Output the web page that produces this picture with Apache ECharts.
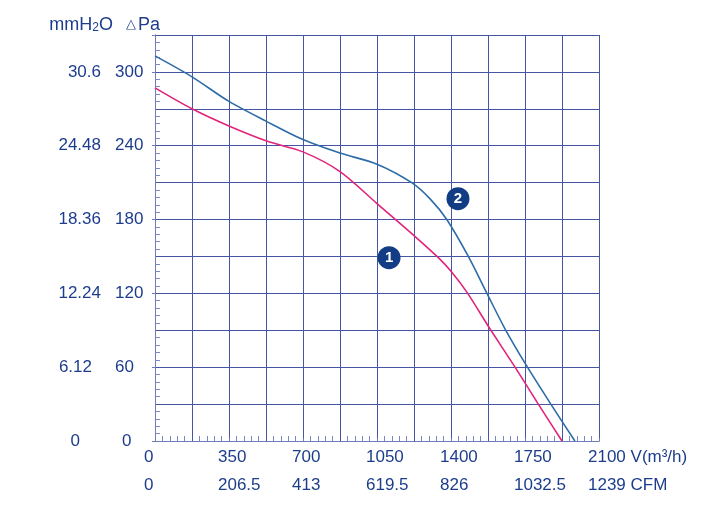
<!DOCTYPE html>
<html>
<head>
<meta charset="utf-8">
<script src="https://cdn.jsdelivr.net/npm/echarts@6/dist/echarts.min.js"></script>
<style>
  html, body { margin: 0; padding: 0; background: #fff; }
  #chart { width: 705px; height: 520px; }
</style>
</head>
<body>
<div id="chart"></div>
<script>
// tick labels
const flowTicks = [0, 350, 700, 1050, 1400, 1750, 2100];
const cfmLabels = ['0', '206.5', '413', '619.5', '826', '1032.5', '1239'];
const paTicks = [0, 60, 120, 180, 240, 300];
const mmLabels = ['0', '6.12', '12.24', '18.36', '24.48', '30.6'];

// curve 1 (pink)
const flow1 = [0, 175, 350, 525, 700, 875, 1050, 1225, 1340, 1400, 1475, 1585, 1703, 1813, 1925];
const press1 = [287, 270, 256, 244, 235, 219, 193, 167, 149, 138, 121, 91, 60, 30, 0];
// curve 2 (blue)
const flow2 = [0, 175, 350, 525, 700, 875, 1050, 1214, 1300, 1380, 1482, 1570, 1656, 1758, 1872, 1986];
const press2 = [313, 296, 276, 260, 245, 234, 225, 210, 197, 180, 150, 120, 91, 61, 30, 0];

// curve number markers
const markerNames = ['1', '2'];
const markerFlow = [1107, 1433];
const markerPress = [149, 197];

const navy = '#1d3d8c';
const gridColor = '#4555a3';
const font = 'Liberation Sans, Arial, sans-serif';

let myChart = echarts.init(document.getElementById('chart'));
let option = {
  backgroundColor: '#fff',
  animation: false,
  textStyle: { fontFamily: font },
  grid: { left: 155, right: 106, top: 35, bottom: 79 },
  graphic: [
    {
      type: 'text',
      x: 113,
      y: 34,
      style: {
        text: 'mmH{s|2}O',
        fill: navy,
        font: '18px ' + font,
        align: 'right',
        verticalAlign: 'bottom',
        rich: { s: { fontSize: 12, fill: navy, padding: [5, 0, 0, 0] } }
      }
    },
    {
      type: 'text',
      x: 160,
      y: 34,
      style: {
        text: '{t|△}Pa',
        fill: navy,
        font: '18px ' + font,
        align: 'right',
        verticalAlign: 'bottom',
        rich: { t: { fontSize: 13, fill: navy, padding: [0, 2, 2, 0] } }
      }
    }
  ],
  xAxis: [
    {
      type: 'value',
      min: 0,
      max: 2100,
      interval: 175,
      position: 'bottom',
      axisLine: { lineStyle: { color: gridColor, width: 1 } },
      axisTick: { show: false, inside: true },
      minorTick: { show: true, splitNumber: 5, length: 5, lineStyle: { color: '#7c88c2' } },
      splitLine: { show: true, lineStyle: { color: gridColor, width: 1 } },
      axisLabel: {
        color: navy,
        fontSize: 17,
        margin: 8,
        align: 'left',
        padding: [0, 0, 0, -11],
        formatter: function (v) {
          if (flowTicks.indexOf(v) < 0) return '';
          return v === 2100 ? '2100 V(m³/h)' : String(v);
        }
      }
    },
    {
      type: 'value',
      min: 0,
      max: 2100,
      interval: 350,
      position: 'bottom',
      offset: 31,
      axisLine: { lineStyle: { color: '#6f7cba', width: 1 } },
      axisTick: { show: true, inside: true, length: 3, lineStyle: { color: '#6f7cba' } },
      splitLine: { show: false },
      axisLabel: {
        color: navy,
        fontSize: 17,
        margin: 5,
        align: 'left',
        padding: [0, 0, 0, -11],
        formatter: function (v) {
          let i = flowTicks.indexOf(v);
          if (i < 0) return '';
          return i === cfmLabels.length - 1 ? cfmLabels[i] + ' CFM' : cfmLabels[i];
        }
      }
    }
  ],
  yAxis: [
    {
      type: 'value',
      min: 0,
      max: 330,
      interval: 30,
      position: 'left',
      axisLine: { show: true, lineStyle: { color: '#9aa6d2', width: 1 } },
      axisTick: { show: false, inside: true },
      minorTick: { show: true, splitNumber: 5, length: 5, lineStyle: { color: '#7c88c2' } },
      splitLine: { show: true, lineStyle: { color: gridColor, width: 1 } },
      axisLabel: {
        color: navy,
        fontSize: 17,
        margin: 40,
        align: 'left',
        formatter: function (v) {
          if (paTicks.indexOf(v) < 0) return '';
          return v === 0 ? '{z|0}' : String(v);
        },
        rich: { z: { color: navy, fontSize: 17, padding: [0, 0, 0, 7] } }
      }
    },
    {
      type: 'value',
      min: 0,
      max: 330,
      interval: 60,
      position: 'left',
      offset: 44,
      axisLine: { show: true, lineStyle: { color: '#6f7cba', width: 1 } },
      axisTick: { show: true, length: 3, lineStyle: { color: '#6f7cba' } },
      splitLine: { show: false },
      axisLabel: {
        color: navy,
        fontSize: 17,
        margin: 10,
        formatter: function (v) {
          let i = paTicks.indexOf(v);
          if (i < 0) return '';
          if (i === 0) return '{z|0}';
          if (i === 1) return '{s|' + mmLabels[i] + '}';
          return mmLabels[i];
        },
        rich: {
          z: { color: navy, fontSize: 17, padding: [0, 21, 0, 0] },
          s: { color: navy, fontSize: 17, padding: [0, 9, 0, 0] }
        }
      }
    }
  ],
  series: [
    {
      name: '1',
      type: 'line',
      smooth: 0.3,
      symbol: 'none',
      lineStyle: { color: '#e2247a', width: 1.6 },
      data: flow1.map((x, i) => [x, press1[i]]),
      z: 3
    },
    {
      name: '2',
      type: 'line',
      smooth: 0.3,
      symbol: 'none',
      lineStyle: { color: '#2e6ca8', width: 1.6 },
      data: flow2.map((x, i) => [x, press2[i]]),
      z: 3
    },
    {
      type: 'scatter',
      symbol: 'circle',
      symbolSize: 23,
      itemStyle: { color: '#123d85', opacity: 1 },
      label: {
        show: true,
        position: 'inside',
        color: '#fff',
        fontSize: 15,
        fontWeight: 'bold',
        formatter: function (p) { return markerNames[p.dataIndex]; }
      },
      data: markerFlow.map((x, i) => [x, markerPress[i]]),
      z: 4
    }
  ]
};
myChart.setOption(option);
window.addEventListener('resize', function () { myChart.resize() })
</script>
</body>
</html>
